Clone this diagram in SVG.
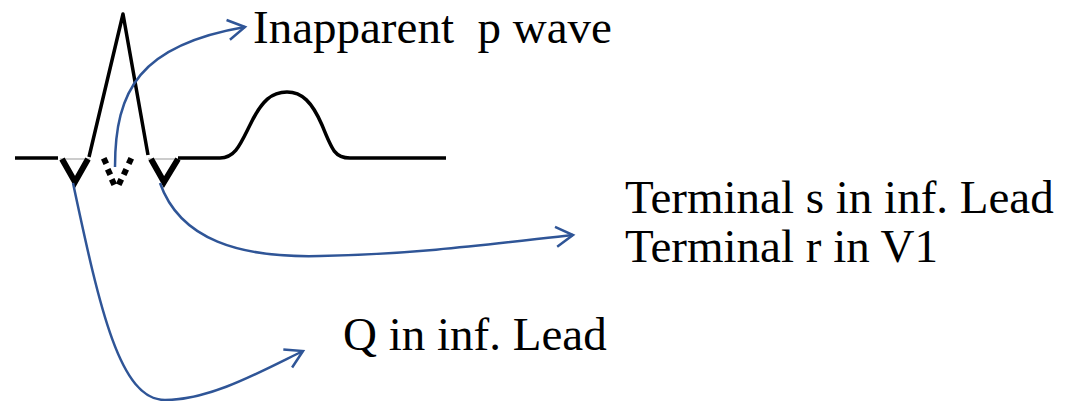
<svg xmlns="http://www.w3.org/2000/svg" width="1066" height="401" viewBox="0 0 1066 401">
<style>
.ecg{fill:none;stroke:#000;stroke-width:3.5;stroke-linejoin:round}
.v{fill:none;stroke:#000;stroke-width:6;stroke-linejoin:miter}
.thin{stroke:#999;stroke-width:1}
.dot{fill:#000}
.arr{fill:none;stroke:#2F5597;stroke-width:2.5;marker-end:url(#ah)}
</style>
<defs>
<marker id="ah" markerUnits="userSpaceOnUse" markerWidth="40" markerHeight="40" viewBox="-20 -20 40 40" refX="0" refY="0" orient="auto" overflow="visible">
<path d="M-17,-10 L0,0 L-17,10" fill="none" stroke="#2F5597" stroke-width="2.5"/>
</marker>
</defs>
<g id="ecg">
<line class="thin" x1="60" y1="159" x2="90" y2="159"/>
<line class="thin" x1="148" y1="159" x2="180" y2="159"/>
<path class="ecg" d="M15,158 L58,158"/>
<path class="v" d="M62,159 L75,182 L88,159"/>
<path class="ecg" d="M89,157 L123,14 L148,155"/>
<path class="v" d="M151,159 L164,182 L178,159"/>
<path class="ecg" d="M178,158 L220,158 C235,158 240,145 250,125 C262,100 272,92 287,92 C302,92 312,102 322,125 C332,150 335,158 350,158 L446,158"/>
<g id="p-dots">
<rect class="dot" x="102" y="158" width="6" height="6" transform="rotate(-25 105 161)"/>
<rect class="dot" x="127" y="158" width="6" height="6" transform="rotate(25 130 161)"/>
<rect class="dot" x="106" y="169" width="6" height="6" transform="rotate(-25 109 172)"/>
<rect class="dot" x="122" y="169" width="6" height="6" transform="rotate(25 125 172)"/>
<rect class="dot" x="110" y="179" width="6" height="6" transform="rotate(-25 113 182)"/>
<rect class="dot" x="117" y="179" width="6" height="6" transform="rotate(25 120 182)"/>
</g>
</g>
<g id="connectors">
<path class="arr" d="M115,167 C115,90 140,45 245,27"/>
<path class="arr" d="M160,183 C180,240 240,258 320,256 C420,254 500,243 573,235"/>
<path class="arr" d="M73,183 C100,310 120,400 165,400 C210,400 260,372 303,351"/>
</g>
<g id="label-p">
<text font-size="47" font-family="'Liberation Serif', serif" x="253" y="43" xml:space="preserve">Inapparent  p wave</text>
</g>
<g id="label-terminal">
<text font-size="47" font-family="'Liberation Serif', serif" x="625" y="213">Terminal s in inf. Lead</text>
<text font-size="47" font-family="'Liberation Serif', serif" x="625" y="262">Terminal r in V1</text>
</g>
<g id="label-q">
<text font-size="47" font-family="'Liberation Serif', serif" x="343" y="350">Q in inf. Lead</text>
</g>
</svg>
